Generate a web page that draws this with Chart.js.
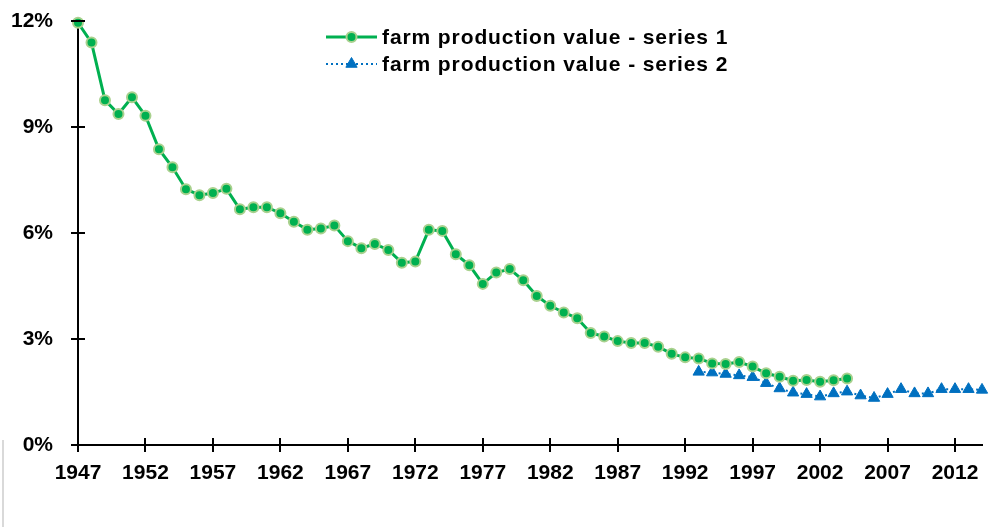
<!DOCTYPE html>
<html>
<head>
<meta charset="utf-8">
<script src="https://cdn.jsdelivr.net/npm/chart.js@4.4.0/dist/chart.umd.min.js"></script>
<style>
  html, body { margin: 0; padding: 0; background: #fff; }
  #wrap { position: relative; width: 1000px; height: 527px; }
  #frame { position: absolute; left: 2px; top: 440px; width: 0; height: 87px; border-left: 2px solid #d9d9d9; }
</style>
</head>
<body>
<div id="wrap">
  <canvas id="farmChart" width="1000" height="527"></canvas>
  <div id="frame"></div>
</div>
<script>
// ---------- data ----------
const firstYear = 1947
const lastYear = 2014
const tickYears = [1947, 1952, 1957, 1962, 1967, 1972, 1977, 1982, 1987, 1992, 1997, 2002, 2007, 2012]
const yTicks = [0, 3, 6, 9, 12]

// series 1: 1947 .. 2004 (percent)
const series1Start = 1947
const series1 = [
  11.95, 11.39, 9.76, 9.37, 9.84, 9.32, 8.37, 7.86, 7.24, 7.07,
  7.13, 7.25, 6.67, 6.73, 6.73, 6.56, 6.32, 6.09, 6.13, 6.21,
  5.77, 5.57, 5.69, 5.52, 5.16, 5.19, 6.09, 6.06, 5.40, 5.09,
  4.56, 4.88, 4.98, 4.66, 4.22, 3.94, 3.75, 3.59, 3.17, 3.07,
  2.94, 2.89, 2.89, 2.78, 2.58, 2.48, 2.45, 2.31, 2.29, 2.35,
  2.22, 2.03, 1.93, 1.82, 1.84, 1.79, 1.83, 1.88
]

// series 2: 1993 .. 2014 (percent)
const series2Start = 1993
const series2 = [
  2.07, 2.05, 2.01, 1.97, 1.92, 1.75, 1.60, 1.48, 1.44, 1.37,
  1.46, 1.51, 1.40, 1.33, 1.44, 1.58, 1.46, 1.46, 1.58, 1.58,
  1.58, 1.56
]

const seriesLabels = ["farm production value - series 1", "farm production value - series 2"]

// ---------- helpers ----------
const FONT = "'Liberation Sans', Arial, sans-serif"
const toPoints = (start, values) => values.map((v, i) => ({x: start + i, y: v}))

// tick marks that cross the axis line (Excel style)
const crossTicks = {
  id: "crossTicks",
  afterDraw(chart) {
    const ctx = chart.ctx
    const xs = chart.scales.x, ys = chart.scales.y
    const area = chart.chartArea
    ctx.save()
    ctx.strokeStyle = "#000"
    ctx.lineWidth = 2
    ctx.beginPath()
    tickYears.forEach(yr => {
      let px = Math.round(xs.getPixelForValue(yr))
      ctx.moveTo(px, area.bottom - 7)
      ctx.lineTo(px, area.bottom + 7)
    })
    yTicks.forEach(v => {
      let py = Math.round(ys.getPixelForValue(v))
      ctx.moveTo(area.left - 7, py)
      ctx.lineTo(area.left + 7, py)
    })
    ctx.stroke()
    ctx.restore()
  }
}

// legend with line + marker samples, drawn inside the plot
const lineLegend = {
  id: "lineLegend",
  afterDraw(chart) {
    const ctx = chart.ctx
    let x0 = 326, y0 = 37, rowH = 27, sampleW = 51
    ctx.save()
    chart.data.datasets.forEach((ds, i) => {
      let y = y0 + i * rowH
      ctx.strokeStyle = ds.borderColor
      ctx.lineWidth = ds.borderWidth
      ctx.setLineDash(ds.borderDash || [])
      ctx.beginPath()
      ctx.moveTo(x0, y)
      ctx.lineTo(x0 + sampleW, y)
      ctx.stroke()
      ctx.setLineDash([])
      ctx.fillStyle = ds.pointBackgroundColor
      ctx.strokeStyle = ds.pointBorderColor
      ctx.lineWidth = ds.pointBorderWidth
      Chart.helpers.drawPoint(ctx, {
        pointStyle: ds.pointStyle,
        radius: ds.pointRadius,
        borderWidth: ds.pointBorderWidth,
        rotation: 0
      }, x0 + sampleW / 2, y)
      ctx.fillStyle = "#000"
      ctx.font = "bold 21px " + FONT
      ctx.letterSpacing = "0.9px"
      ctx.textBaseline = "middle"
      ctx.textAlign = "left"
      ctx.fillText(ds.label, x0 + sampleW + 5, y + 1)
    })
    ctx.restore()
  }
}

// keep the plot area where the picture has it: no extra room for half labels
const noLabelPadding = scale => {
  scale.paddingTop = 0
  scale.paddingBottom = 0
  scale.paddingLeft = 0
  scale.paddingRight = 0
}

new Chart(document.getElementById("farmChart"), {
  type: "line",
  data: {
    datasets: [
      {
        label: seriesLabels[0],
        data: toPoints(series1Start, series1),
        borderColor: "#00b050",
        borderWidth: 3,
        pointStyle: "circle",
        pointRadius: 5,
        pointBackgroundColor: "#00b050",
        pointBorderColor: "#a9d18e",
        pointBorderWidth: 2,
        tension: 0
      },
      {
        label: seriesLabels[1],
        data: toPoints(series2Start, series2),
        borderColor: "#0070c0",
        borderWidth: 2,
        borderDash: [2, 3],
        pointStyle: "triangle",
        pointRadius: 6.5,
        pointBackgroundColor: "#0070c0",
        pointBorderColor: "#0070c0",
        pointBorderWidth: 1,
        tension: 0
      }
    ]
  },
  options: {
    responsive: false,
    animation: false,
    clip: false,
    layout: { padding: { top: 21, right: 18, left: 0, bottom: 0 } },
    plugins: {
      legend: { display: false },
      tooltip: { enabled: false }
    },
    scales: {
      x: {
        type: "linear",
        min: firstYear,
        max: lastYear,
        afterBuildTicks: scale => { scale.ticks = tickYears.map(v => ({value: v})) },
        afterFit: scale => { scale.height = 82; noLabelPadding(scale) },
        grid: { display: false },
        border: { display: true, color: "#000", width: 2 },
        ticks: {
          autoSkip: false,
          maxRotation: 0,
          padding: 8,
          color: "#000",
          font: { family: FONT, size: 21, weight: "bold" },
          callback: v => String(v)
        }
      },
      y: {
        min: 0,
        max: 12,
        afterBuildTicks: scale => { scale.ticks = yTicks.map(v => ({value: v})) },
        afterFit: scale => { scale.width = 78; noLabelPadding(scale) },
        grid: { display: false },
        border: { display: true, color: "#000", width: 2 },
        ticks: {
          padding: 17,
          color: "#000",
          font: { family: FONT, size: 21, weight: "bold" },
          callback: v => v + "%"
        }
      }
    }
  },
  plugins: [crossTicks, lineLegend]
});
</script>
</body>
</html>
